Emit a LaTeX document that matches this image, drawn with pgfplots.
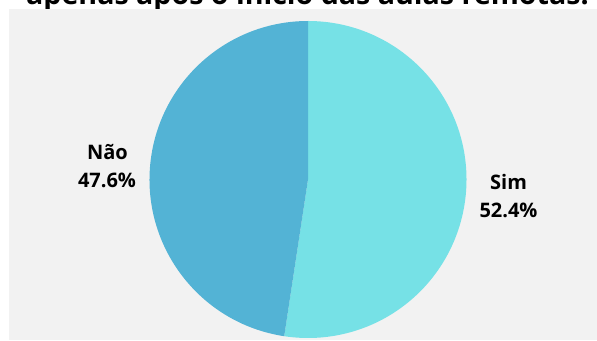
\documentclass[border=0pt]{standalone}
\usepackage{pgfplots}
\usepackage{pgfplotstable}
\pgfplotsset{compat=1.18}
\usepackage{fontspec}
\setmainfont{Open Sans}
\definecolor{simcol}{HTML}{76E1E6}
\definecolor{naocol}{HTML}{53B3D5}
\definecolor{panel}{HTML}{F2F2F2}
\pgfplotstableread{
label value
Sim 52.4
Nao 47.6
}\piedata
\pgfplotstablegetelem{0}{value}\of\piedata
\let\vsim\pgfplotsretval
\pgfplotstablegetelem{1}{value}\of\piedata
\let\vnao\pgfplotsretval
\begin{document}
\begin{tikzpicture}[x=1bp,y=1bp]
\useasboundingbox (0,0) rectangle (597,340);
\clip (0,0) rectangle (597,340);
\node[anchor=base, font=\fontsize{28.6bp}{32bp}\selectfont\bfseries, inner sep=0pt] at (307.5,335.5) {apenas após o início das aulas remotas.};
\fill[panel] (9,0) rectangle (597,331);
\begin{axis}[at={(308bp,160.5bp)}, anchor=center, width=317bp, height=317bp, scale only axis,
  xmin=-1, xmax=1, ymin=-1, ymax=1, hide axis, clip=false]
\fill[simcol] (axis cs:0,0) -- ++(90:158.5bp) arc[start angle=90, end angle={90-3.6*\vsim}, radius=158.5bp] -- cycle;
\fill[naocol] (axis cs:0,0) -- ++({90-3.6*\vsim}:158.5bp) arc[start angle={90-3.6*\vsim}, end angle={90-3.6*\vsim-3.6*\vnao}, radius=158.5bp] -- cycle;
\end{axis}
\begin{scope}[every node/.style={anchor=base, inner sep=0pt, font=\fontsize{20bp}{24bp}\selectfont\bfseries}]
\node at (107.5,181) {Não};
\node at (107,153) {\vnao\%};
\node at (508.5,151) {Sim};
\node at (508.5,123) {\vsim\%};
\end{scope}
\end{tikzpicture}
\end{document}
